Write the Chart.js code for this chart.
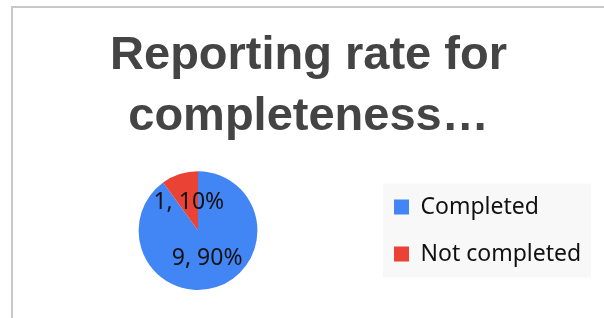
<!DOCTYPE html>
<html>
<head>
<meta charset="utf-8">
<title>Reporting rate for completeness</title>
<script src="https://cdn.jsdelivr.net/npm/chart.js"></script>
<style>
  html, body { margin: 0; padding: 0; background: #fff; }
  /* thin grey frame of the sheet chart, only top and left edges show */
  #frame {
    position: absolute; left: 11px; top: 6px; right: 0; bottom: 0;
    border-left: 2px solid #c8c8c8; border-top: 2px solid #c8c8c8;
  }
  #wrap { position: absolute; left: 0; top: 0; width: 604px; height: 318px; }
</style>
</head>
<body>
<div id="frame"></div>
<div id="wrap"><canvas id="myChart"></canvas></div>
<script>
let titleLines = ["Reporting rate for", "completeness…"];
let categories = ["Completed", "Not completed"];
let counts = [9, 1];
let sliceColors = ["#4285F4", "#EA4335"];

var ctx = document.getElementById("myChart");

// "9, 90%" style labels in the middle of each slice
const sliceLabels = {
	id: "sliceLabels",
	afterDatasetsDraw(chart) {
		const c = chart.ctx;
		const total = counts.reduce((a, b) => a + b, 0);
		const meta = chart.getDatasetMeta(0);
		c.save();
		c.font = "23px 'Noto Sans'";
		c.fillStyle = "#111";
		c.textAlign = "center";
		c.textBaseline = "middle";
		meta.data.forEach((arc, i) => {
			const p = arc.getCenterPoint();
			const pct = Math.round((counts[i] / total) * 100);
			c.fillText(counts[i] + ", " + pct + "%", p.x, p.y);
		});
		c.restore();
	},
};

// light grey panel behind the legend
const legendPanel = {
	id: "legendPanel",
	beforeDraw(chart) {
		const lg = chart.legend;
		if (!lg || !lg.legendHitBoxes || !lg.legendHitBoxes.length) return;
		const boxes = lg.legendHitBoxes;
		const first = boxes[0];
		const last = boxes[boxes.length - 1];
		const c = chart.ctx;
		c.save();
		c.fillStyle = "#f8f8f8";
		c.fillRect(lg.left + 13, first.top - 12, lg.right - lg.left - 13, last.top + last.height - first.top + 24);
		c.restore();
	},
};

var myChart = new Chart(ctx, {
	type: "pie",
	data: {
		labels: categories,
		datasets: [
			{
				data: counts,
				backgroundColor: sliceColors,
				borderWidth: 0,
			},
		],
	},
	options: {
		responsive: true,
		maintainAspectRatio: false,
		animation: false,
		layout: {
			padding: { left: 26, right: 13, top: 0, bottom: 28 },
		},
		plugins: {
			title: {
				display: true,
				text: titleLines,
				color: "#444444",
				font: { family: "'Liberation Sans', Arial, sans-serif", size: 47, weight: "bold", lineHeight: 1.3 },
				padding: { top: 25, bottom: 24 },
			},
			legend: {
				position: "right",
				fullSize: false,
				maxWidth: 221,
				labels: {
					boxWidth: 15,
					boxHeight: 15,
					padding: 24,
					color: "#111",
					font: { family: "'Noto Sans'", size: 23 },
				},
			},
			tooltip: { enabled: false },
		},
	},
	plugins: [sliceLabels, legendPanel],
});
</script>
</body>
</html>
